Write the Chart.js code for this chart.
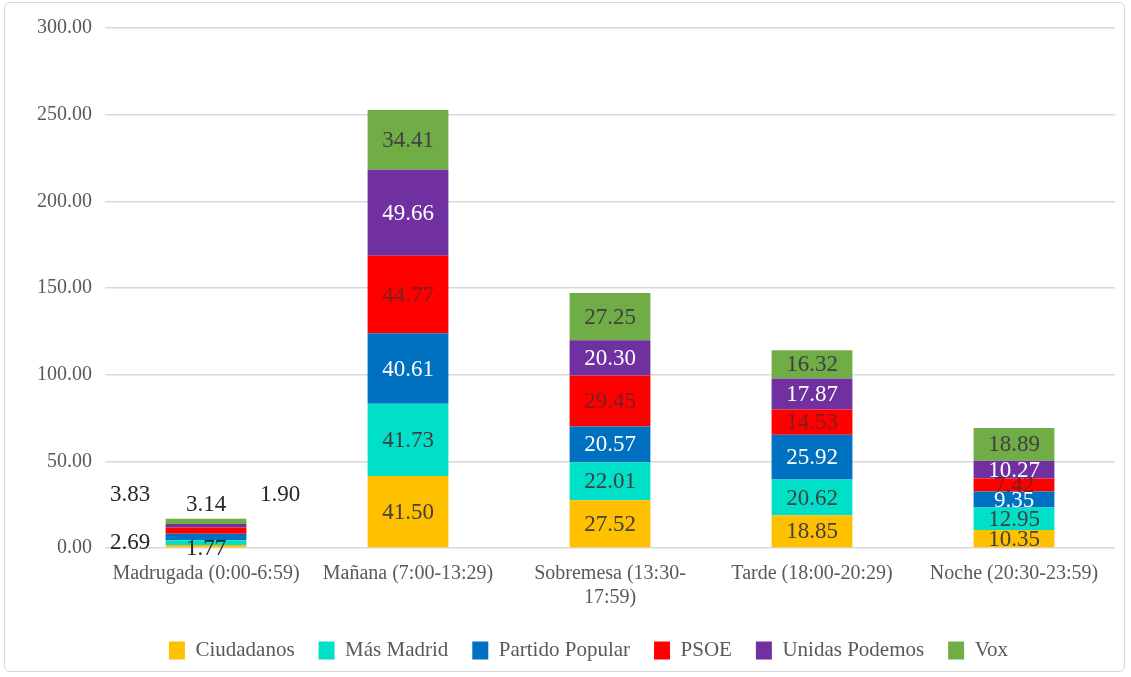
<!DOCTYPE html>
<html>
<head>
  <meta charset="utf-8">
  <title>Votos por franja horaria</title>
  <script src="https://cdn.jsdelivr.net/npm/chart.js"></script>
  <style>
    html, body { margin: 0; padding: 0; background: #fff; overflow: hidden; }
    .frame {
      position: absolute; left: 4px; top: 2px; width: 1121px; height: 670px;
      border: 1px solid #d9d9d9; border-radius: 6px; box-sizing: border-box;
    }
    .chart-box { position: absolute; left: 0; top: 0; width: 1131px; height: 677px; }
  </style>
</head>
<body>
  <div class="frame"></div>
  <div class="chart-box"><canvas id="chart" width="1131" height="677"></canvas></div>

  <script>
    // Categories and series values
    const franjas = [
      'Madrugada (0:00-6:59)',
      'Mañana (7:00-13:29)',
      ['Sobremesa (13:30-', '17:59)'],
      'Tarde (18:00-20:29)',
      'Noche (20:30-23:59)'
    ];
    const ciudadanos = [1.77, 41.50, 27.52, 18.85, 10.35];
    const masMadrid = [2.69, 41.73, 22.01, 20.62, 12.95];
    const partidoPopular = [3.83, 40.61, 20.57, 25.92, 9.35];
    const psoe = [3.60, 44.77, 29.45, 14.53, 7.42];
    const unidasPodemos = [1.90, 49.66, 20.30, 17.87, 10.27];
    const vox = [3.14, 34.41, 27.25, 16.32, 18.89];
    const yTicks = [0, 50, 100, 150, 200, 250, 300];

    const series = [
      { label: 'Ciudadanos', data: ciudadanos, color: '#ffc000', text: '#404040' },
      { label: 'Más Madrid', data: masMadrid, color: '#00e0c8', text: '#404040' },
      { label: 'Partido Popular', data: partidoPopular, color: '#0070c0', text: '#ffffff' },
      { label: 'PSOE', data: psoe, color: '#ff0000', text: '#7a2020' },
      { label: 'Unidas Podemos', data: unidasPodemos, color: '#7030a0', text: '#ffffff' },
      { label: 'Vox', data: vox, color: '#70ad47', text: '#404040' }
    ];

    const FONT = "'Liberation Serif', 'DejaVu Serif', serif";

    // The first bar is too thin for labels, so they are placed around it
    // (offsets in px relative to bar centre / bar top); null = label not shown
    const firstBarOffsets = [
      { dx: 0, dy: 'base', oy: 1 },     // Ciudadanos, below centre
      { dx: -76, dy: 'base', oy: -5 },  // Más Madrid, left of base
      { dx: -76, dy: 'top', oy: -24 },  // Partido Popular, upper left
      null,                             // PSOE, no label
      { dx: 74, dy: 'top', oy: -24 },   // Unidas Podemos, upper right
      { dx: 0, dy: 'top', oy: -14 }     // Vox, above bar
    ];

    const barLabels = {
      id: 'barLabels',
      afterLayout(chart) {
        // legend sits a little right of centre in the reference
        if (chart.legend) {
          chart.legend.left += 19;
          chart.legend.right += 19;
        }
      },
      afterDatasetsDraw(chart) {
        const ctx = chart.ctx;
        const yScale = chart.scales.y;
        ctx.save();
        ctx.font = '23px ' + FONT;
        ctx.textAlign = 'center';
        ctx.textBaseline = 'middle';
        chart.data.datasets.forEach((ds, di) => {
          const meta = chart.getDatasetMeta(di);
          meta.data.forEach((bar, i) => {
            const val = ds.data[i];
            const txt = val.toFixed(2);
            if (i === 0) {
              const o = firstBarOffsets[di];
              if (!o) return;
              const topEl = chart.getDatasetMeta(chart.data.datasets.length - 1).data[0];
              const y = o.dy === 'top' ? topEl.y + o.oy : yScale.getPixelForValue(0) + o.oy;
              ctx.fillStyle = '#262626';
              ctx.fillText(txt, bar.x + o.dx, y);
              return;
            }
            ctx.fillStyle = series[di].text;
            ctx.fillText(txt, bar.x, (bar.y + bar.base) / 2 + 1);
          });
        });
        ctx.restore();
      }
    };

    new Chart(document.getElementById('chart'), {
      type: 'bar',
      data: {
        labels: franjas,
        datasets: series.map(s => ({
          label: s.label,
          data: s.data,
          backgroundColor: s.color,
          borderWidth: 0,
          categoryPercentage: 1,
          barPercentage: 0.4
        }))
      },
      options: {
        responsive: false,
        animation: false,
        devicePixelRatio: 1,
        layout: { padding: { left: 24, right: 16, top: 28, bottom: 6 } },
        scales: {
          x: {
            stacked: true,
            grid: { display: false },
            border: { display: false },
            ticks: { color: '#595959', font: { family: FONT, size: 20, lineHeight: 1.2 }, maxRotation: 0, autoSkip: false, padding: 6 }
          },
          y: {
            stacked: true,
            min: 0,
            max: 300,
            afterBuildTicks: axis => { axis.ticks = yTicks.map(v => ({ value: v })); },
            afterFit: axis => { axis.paddingTop = 0; },
            grid: { color: '#d9d9d9', lineWidth: 1.5, drawTicks: false },
            border: { display: false },
            ticks: {
              color: '#595959',
              font: { family: FONT, size: 20 },
              padding: 13,
              callback: v => Number(v).toFixed(2)
            }
          }
        },
        plugins: {
          legend: {
            position: 'bottom',
            labels: {
              color: '#595959',
              font: { family: FONT, size: 21 },
              boxWidth: 16,
              boxHeight: 18,
              padding: 24
            }
          },
          tooltip: { enabled: false }
        }
      },
      plugins: [barLabels]
    });
  </script>
</body>
</html>
